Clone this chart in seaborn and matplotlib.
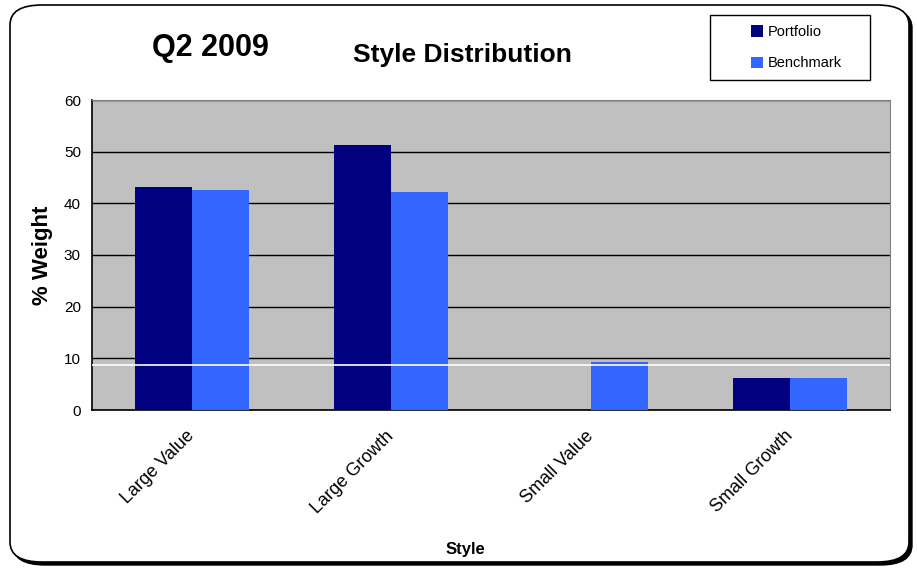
import numpy as np
import pandas as pd
import matplotlib
matplotlib.use("Agg")
import matplotlib.pyplot as plt
import seaborn as sns
from matplotlib.patches import FancyBboxPatch, Rectangle

styles = ["Large Value", "Large Growth", "Small Value", "Small Growth"]
portfolio = [43.2, 51.3, 0.0, 6.2]
benchmark = [42.6, 42.2, 9.3, 6.2]
white_line = 8.8

df = pd.DataFrame({
    "Style": styles * 2,
    "Weight": portfolio + benchmark,
    "Series": ["Portfolio"] * 4 + ["Benchmark"] * 4,
})

sns.set_style("white")
plt.rcParams["font.family"] = ["Liberation Sans", "DejaVu Sans"]
plt.rcParams.update({"text.color": "black", "axes.labelcolor": "black",
                     "xtick.color": "black", "ytick.color": "black"})

fig = plt.figure(figsize=(9.17, 5.68), dpi=100)
ax = fig.add_axes([92 / 917, 1 - 410 / 568, 798 / 917, 310 / 568])

# rounded outer border with shadow on right/bottom
shadow = FancyBboxPatch((13 / 917, 3 / 568), 899 / 917, 557 / 568,
                        boxstyle="round,pad=0,rounding_size=0.035",
                        transform=fig.transFigure, facecolor="black",
                        edgecolor="black", lw=1, zorder=-3)
border = FancyBboxPatch((10 / 917, 6 / 568), 899 / 917, 557 / 568,
                        boxstyle="round,pad=0,rounding_size=0.035",
                        transform=fig.transFigure, facecolor="white",
                        edgecolor="black", lw=1.2, zorder=-2)
fig.patches.extend([shadow, border])

ax.set_facecolor("#C0C0C0")
sns.barplot(data=df, x="Style", y="Weight", hue="Series", order=styles,
            hue_order=["Portfolio", "Benchmark"],
            palette={"Portfolio": "#000080", "Benchmark": "#3366FF"},
            width=0.57, gap=0, saturation=1, linewidth=0, edgecolor="none",
            ax=ax, zorder=3)

ax.set_ylim(0, 60)
ax.set_xlim(-0.5, 3.5)
ax.set_yticks(np.arange(0, 61, 10))
ax.yaxis.grid(True, color="black", lw=1)
ax.set_axisbelow(True)
ax.axhline(white_line, color="white", lw=1.2, zorder=4)

for s in ["top", "right"]:
    ax.spines[s].set_color("#808080")
for s in ["left", "bottom"]:
    ax.spines[s].set_color("black")
    ax.spines[s].set_linewidth(1.2)

ax.set_xticks(np.arange(-0.5, 3.6, 1), minor=True)
ax.tick_params(axis="x", which="major", length=0, pad=17)
ax.tick_params(axis="x", which="minor", length=5, width=1, color="black", direction="out")
ax.tick_params(axis="y", length=5, width=1, color="black", direction="out", labelsize=11, pad=3)
ax.set_xticks(range(len(styles)))
ax.set_xticklabels(styles, rotation=45, ha="right", va="center", rotation_mode="anchor", fontsize=13)

ax.set_ylabel("% Weight", fontsize=16, fontweight="bold", labelpad=8)
ax.set_xlabel("Style", fontsize=12, fontweight="bold")
ax.xaxis.set_label_coords(0.468, -0.427)

fig.text(210 / 917, 1 - 48 / 568, "Q2 2009", fontsize=22, fontweight="bold", ha="center", va="center")
fig.text(462 / 917, 1 - 55 / 568, "Style Distribution", fontsize=19, fontweight="bold", ha="center", va="center")

# legend frame drawn separately to match the wide box
fig.patches.append(Rectangle((710 / 917, 1 - 80 / 568), 160 / 917, 65 / 568,
                             transform=fig.transFigure, facecolor="white",
                             edgecolor="black", lw=1, zorder=1))
handles, labels = ax.get_legend_handles_labels()
ax.legend_.remove()
leg = fig.legend(handles, labels, loc="upper left", bbox_to_anchor=(748 / 917, 1 - 22 / 568),
                 frameon=False, prop={"family": ["Liberation Sans Narrow", "Liberation Sans"], "size": 10.5},
                 handlelength=0.85, handleheight=0.85, handletextpad=0.3,
                 labelspacing=1.2, borderpad=0.2, borderaxespad=0)
leg.set_zorder(2)

fig.savefig("out.png", dpi=100)
